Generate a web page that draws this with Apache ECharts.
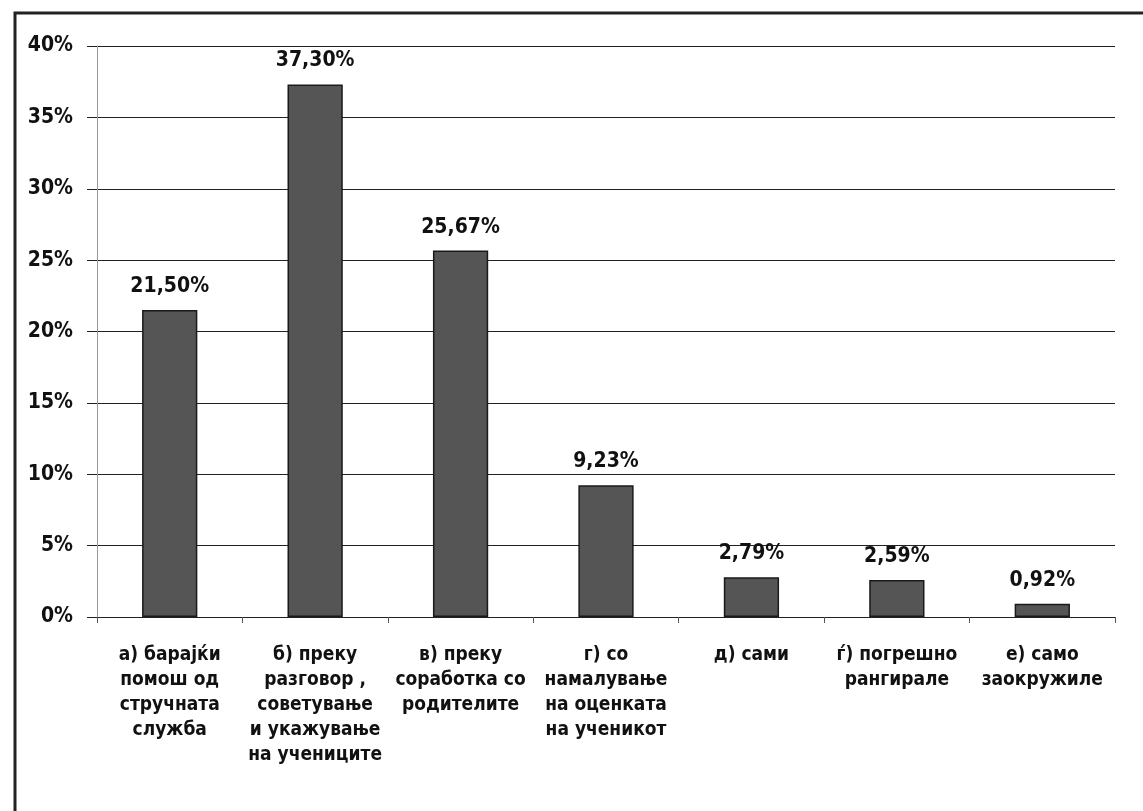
<!DOCTYPE html>
<html>
<head>
<meta charset="utf-8">
<script src="https://cdn.jsdelivr.net/npm/echarts@6/dist/echarts.min.js"></script>
<style>
html,body{margin:0;padding:0;background:#fff;}
#c{width:1143px;height:811px;}
</style>
</head>
<body>
<div id="c"></div>
<script>
var categories = [
  'а) барајќи\nпомош од\nстручната\nслужба',
  'б) преку\nразговор ,\nсоветување\nи укажување\nна учениците',
  'в) преку\nсоработка со\nродителите',
  'г) со\nнамалување\nна оценката\nна ученикот',
  'д) сами',
  'ѓ) погрешно\nрангирале',
  'е) само\nзаокружиле'
];
var values = [21.50, 37.30, 25.67, 9.23, 2.79, 2.59, 0.92];
var yTicks = [0, 5, 10, 15, 20, 25, 30, 35, 40];

var FONT = '"DejaVu Sans Condensed", "Liberation Sans Narrow", sans-serif';
var chart = echarts.init(document.getElementById('c'));
chart.setOption({
  animation: false,
  backgroundColor: '#fff',
  graphic: [{
    type: 'polyline',
    shape: { points: [[15, 811], [15, 13], [1143, 13]] },
    style: { stroke: '#222', lineWidth: 3, fill: null },
    silent: true
  }],
  grid: { left: 97, right: 28, top: 46, bottom: 194, containLabel: false },
  xAxis: {
    type: 'category',
    data: categories,
    axisLine: { show: true, lineStyle: { color: '#222', width: 1.2 } },
    axisTick: { show: true, alignWithLabel: false, length: 6, lineStyle: { color: '#555' } },
    axisLabel: {
      interval: 0,
      margin: 26,
      color: '#111',
      fontFamily: FONT,
      fontWeight: 'bold',
      fontSize: 19,
      lineHeight: 25,
      align: 'center'
    }
  },
  yAxis: {
    type: 'value',
    min: 0,
    max: 40,
    interval: 5,
    axisLine: { show: true, lineStyle: { color: '#999', width: 1 } },
    axisTick: { show: true, length: 10, inside: false, lineStyle: { color: '#222' } },
    splitLine: { show: true, lineStyle: { color: '#222', width: 1.2 } },
    axisLabel: {
      margin: 24,
      color: '#111',
      fontFamily: FONT,
      fontWeight: 'bold',
      fontSize: 21,
      formatter: function (v) { return yTicks.indexOf(v) >= 0 ? v + '%' : ''; }
    }
  },
  series: [{
    type: 'bar',
    data: values,
    barWidth: '38%',
    itemStyle: { color: '#555555', borderColor: '#1a1a1a', borderWidth: 1.5 },
    label: {
      show: true,
      position: 'top',
      distance: 13,
      color: '#111',
      fontFamily: FONT,
      fontWeight: 'bold',
      fontSize: 21,
      formatter: function (p) { return p.value.toFixed(2).replace('.', ',') + '%'; }
    }
  }]
});
</script>
</body>
</html>
